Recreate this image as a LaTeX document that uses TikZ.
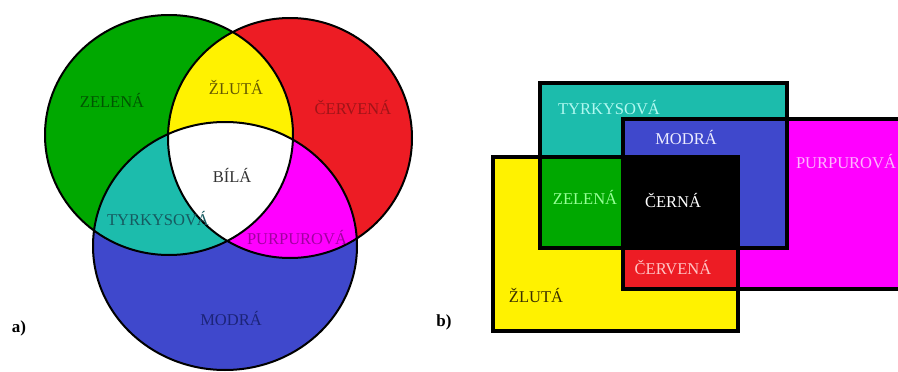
\documentclass[tikz,border=0pt]{standalone}
\usepackage{fontspec}
\setmainfont{Liberation Serif}
\definecolor{cGreen}{RGB}{0,168,0}
\definecolor{cRed}{RGB}{237,28,36}
\definecolor{cYellow}{RGB}{255,242,0}
\definecolor{cBlue}{RGB}{63,72,204}
\definecolor{cCyan}{RGB}{28,188,172}
\definecolor{cMag}{RGB}{255,0,255}
\definecolor{tGreen}{RGB}{0,85,0}
\definecolor{tYellow}{RGB}{100,88,0}
\definecolor{tRed}{RGB}{160,20,24}
\definecolor{tWhite}{RGB}{50,50,50}
\definecolor{tCyan}{RGB}{22,90,96}
\definecolor{tMag}{RGB}{160,0,160}
\definecolor{tBlue}{RGB}{28,36,120}
\definecolor{lCyan}{RGB}{176,248,240}
\definecolor{lBlue}{RGB}{236,236,255}
\definecolor{lMag}{RGB}{255,180,255}
\definecolor{lGreen}{RGB}{150,255,150}
\definecolor{lRed}{RGB}{255,196,196}
\definecolor{lYellow}{RGB}{58,48,0}
\tikzset{
  lab/.style={font=\fontsize{16.5}{18}\selectfont, inner sep=0pt},
  tag/.style={font=\fontsize{17}{19}\selectfont\bfseries, inner sep=0pt},
  ring/.style={draw=black, line width=2pt},
  box/.style={draw=black, line width=4pt},
}
\begin{document}
\begin{tikzpicture}[x=1pt,y=-1pt]
\useasboundingbox (0,0) rectangle (898,372);
% ---- a) additive Venn ----
\def\G{(169,135) ellipse [x radius=124pt, y radius=120pt]}
\def\R{(290,138) ellipse [x radius=122pt, y radius=120pt]}
\def\B{(225,246) ellipse [x radius=132pt, y radius=124pt]}
\fill[cGreen] \G;
\fill[cRed] \R;
\fill[cBlue] \B;
\begin{scope}\clip \G; \fill[cYellow] \R; \fill[cCyan] \B; \end{scope}
\begin{scope}\clip \R; \fill[cMag] \B; \end{scope}
\begin{scope}\clip \G; \clip \R; \fill[white] \B; \end{scope}
\draw[ring] \G; \draw[ring] \R; \draw[ring] \B;
\node[lab, text=tGreen] (zel) at (112,100) {ZELENÁ};
\node[lab, text=tYellow] (zlu) at (236,87) {ŽLUTÁ};
\node[lab, text=tRed] (cer) at (353,108) {ČERVENÁ};
\node[lab, text=tWhite] (bil) at (232,175) {BÍLÁ};
\node[lab, text=tCyan] (tyr) at (158,219) {TYRKYSOVÁ};
\node[lab, text=tMag] (pur) at (297,238) {PURPUROVÁ};
\node[lab, text=tBlue] (mod) at (231,318) {MODRÁ};
\node[tag] (ta) at (19,328) {a)};
\node[tag] (tb) at (444,322) {b)};
% ---- b) subtractive rectangles ----
\fill[cYellow] (493,157) rectangle (738,331);
\fill[cCyan] (540,83) rectangle (787,248);
\fill[cMag] (623,119) rectangle (903,289);
\fill[cGreen] (540,157) rectangle (738,248);
\fill[cRed] (623,157) rectangle (738,289);
\fill[cBlue] (623,119) rectangle (787,248);
\fill[black] (623,157) rectangle (738,248);
\draw[box] (493,157) rectangle (738,331);
\draw[box] (540,83) rectangle (787,248);
\draw[box] (623,119) rectangle (903,289);
\node[lab, text=lCyan] (rtyr) at (609,108) {TYRKYSOVÁ};
\node[lab, text=lBlue] (rmod) at (686,137) {MODRÁ};
\node[lab, text=lMag] (rpur) at (846,162) {PURPUROVÁ};
\node[lab, text=lGreen] (rzel) at (585,197) {ZELENÁ};
\node[lab, text=white] (rcer) at (673,200) {ČERNÁ};
\node[lab, text=lRed] (rcerv) at (673,268) {ČERVENÁ};
\node[lab, text=lYellow] (rzlu) at (536,295) {ŽLUTÁ};
\end{tikzpicture}
\end{document}
